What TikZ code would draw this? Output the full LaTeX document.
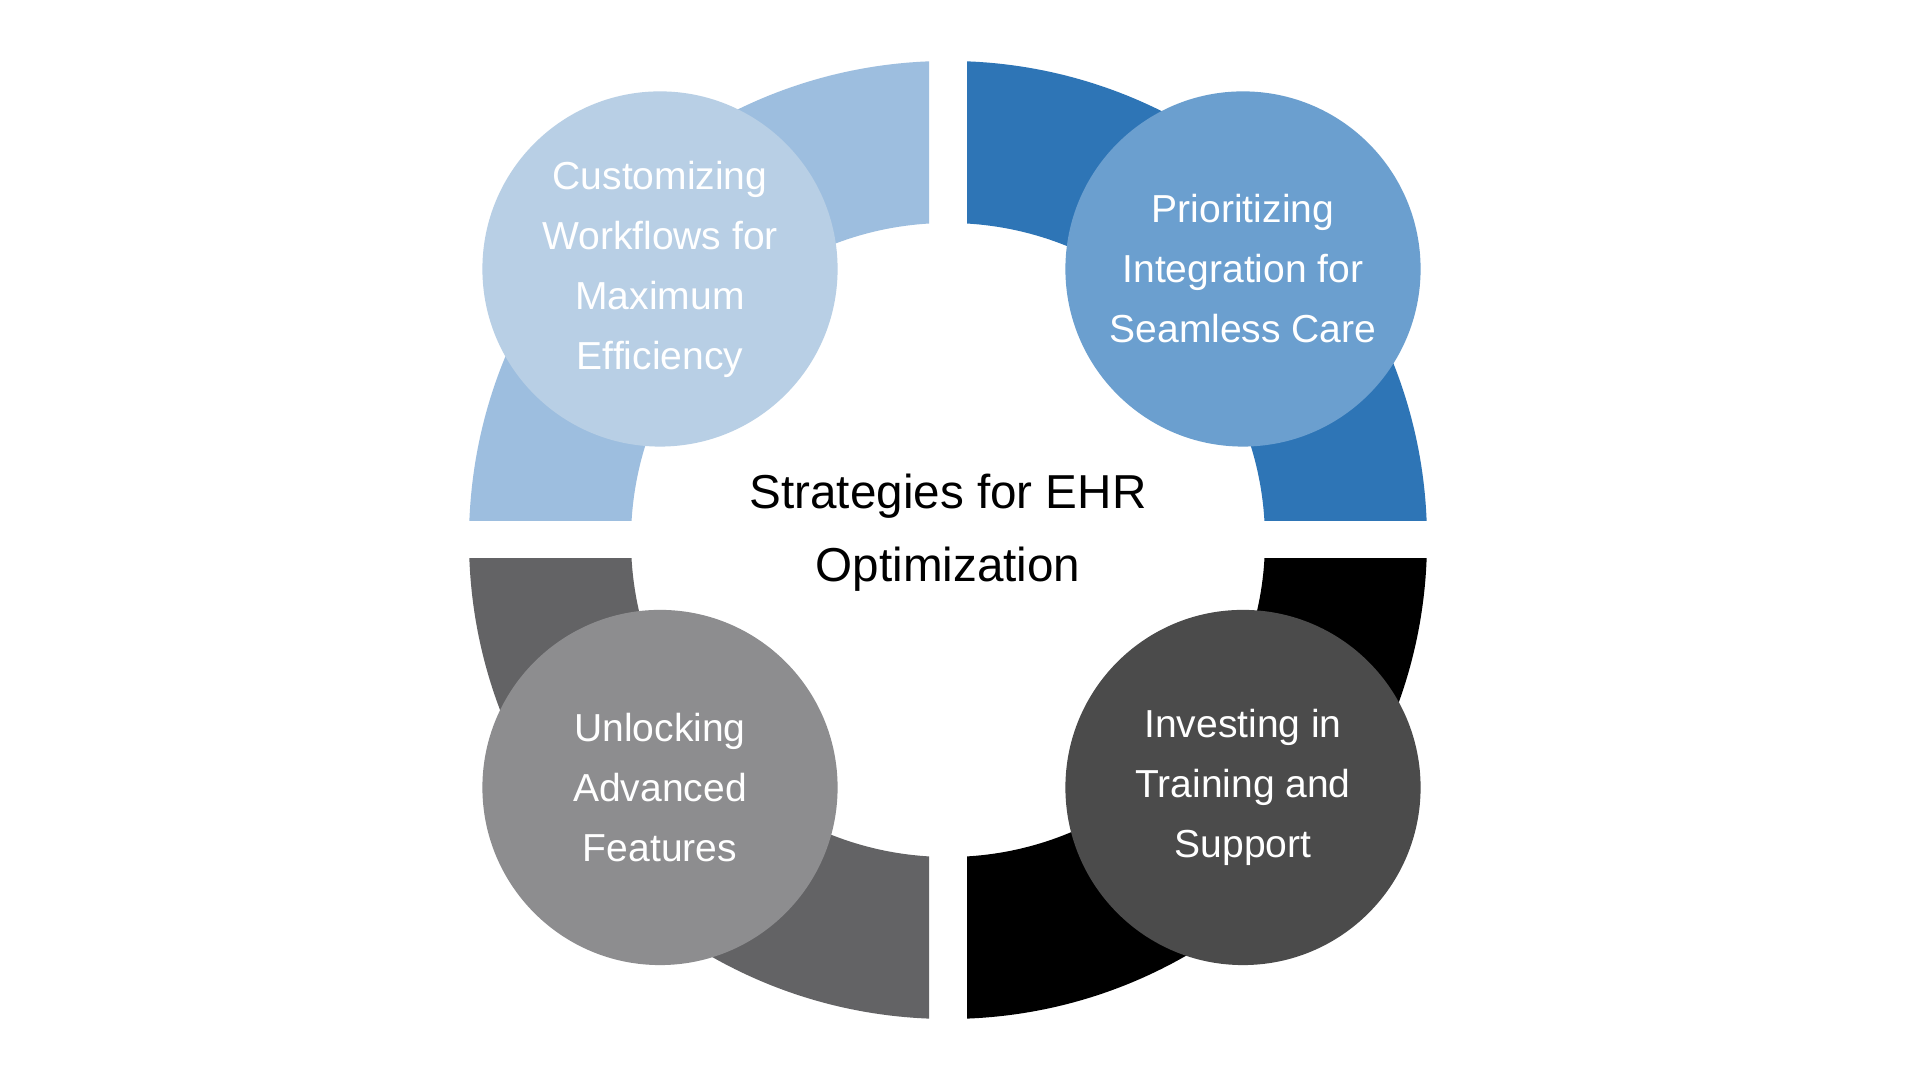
\documentclass[tikz,border=0pt]{standalone}
\usepackage{fontspec}
\setmainfont{Liberation Sans}
\definecolor{arcTL}{HTML}{9DBEDF}
\definecolor{dotTL}{HTML}{B8CFE5}
\definecolor{arcTR}{HTML}{2E75B6}
\definecolor{dotTR}{HTML}{6B9FCF}
\definecolor{arcBL}{HTML}{636365}
\definecolor{dotBL}{HTML}{8D8D8F}
\definecolor{arcBR}{HTML}{000000}
\definecolor{dotBR}{HTML}{4B4B4B}
\tikzset{
  bubble/.style={circle, minimum size=3.55cm, inner sep=0pt, text=white, align=center,
    font=\fontsize{11.1pt}{17.07pt}\selectfont},
  title/.style={align=center, inner sep=0pt, text=black,
    font=\fontsize{13.54pt}{20.77pt}\selectfont}
}
\begin{document}
\begin{tikzpicture}[x=0.01cm, y=0.01cm]
\fill[white] (0,0) rectangle (1920,1080);
\useasboundingbox (0,0) rectangle (1920,1080);
\coordinate (c) at (948,540);
% top-left segment
\begin{scope}
  \clip (0,559) rectangle (929,1080);
  \fill[arcTL, even odd rule] (c) circle (479) (c) circle (317);
\end{scope}
% top-right segment
\begin{scope}
  \clip (967,559) rectangle (1920,1080);
  \fill[arcTR, even odd rule] (c) circle (479) (c) circle (317);
\end{scope}
% bottom-left segment
\begin{scope}
  \clip (0,0) rectangle (929,521);
  \fill[arcBL, even odd rule] (c) circle (479) (c) circle (317);
\end{scope}
% bottom-right segment
\begin{scope}
  \clip (967,0) rectangle (1920,521);
  \fill[arcBR, even odd rule] (c) circle (479) (c) circle (317);
\end{scope}
\node[bubble, fill=dotTL] (tl) at (660,811) {Customizing\\Workflows for\\Maximum\\Efficiency};
\node[bubble, fill=dotTR] (tr) at (1243,811) {Prioritizing\\Integration for\\Seamless Care};
\node[bubble, fill=dotBL] (bl) at (660,292.5) {Unlocking\\Advanced\\Features};
\node[bubble, fill=dotBR] (br) at (1243,292.5) {Investing in\\Training and\\Support};
\node[title] (t) at (948,547) {Strategies for EHR\\Optimization};
\end{tikzpicture}
\end{document}
